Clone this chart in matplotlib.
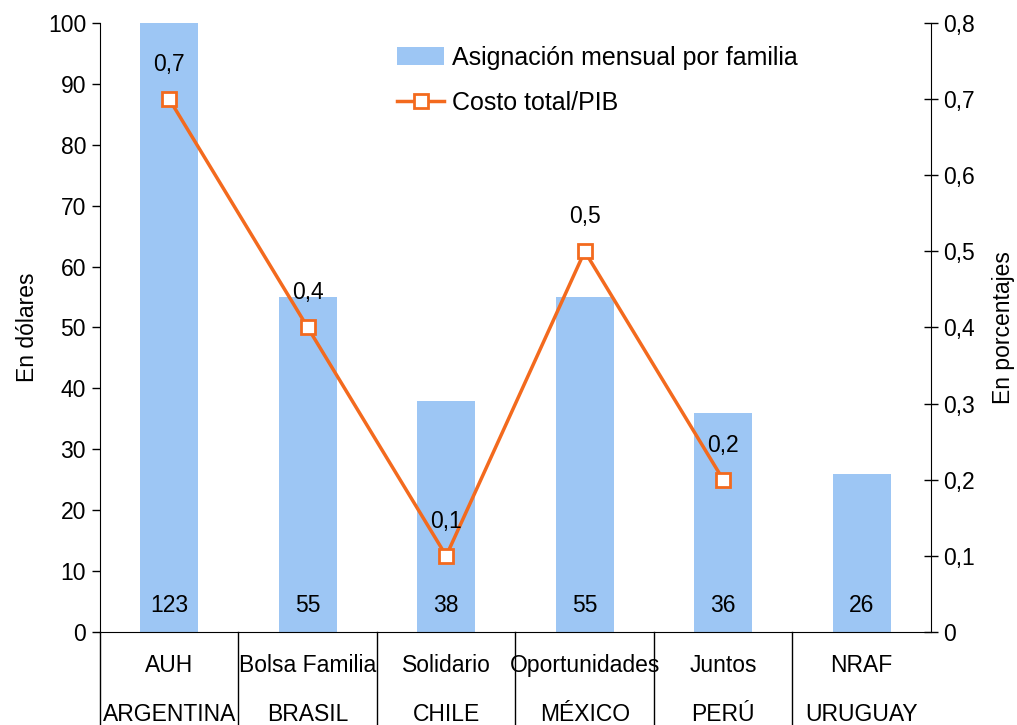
import numpy as np
import matplotlib.pyplot as plt
import matplotlib.transforms as mtransforms

plt.rcParams['font.family'] = ['Liberation Sans', 'DejaVu Sans']

#%% Data
programas = ['AUH', 'Bolsa Familia', 'Solidario', 'Oportunidades', 'Juntos', 'NRAF']
paises = ['ARGENTINA', 'BRASIL', 'CHILE', 'MÉXICO', 'PERÚ', 'URUGUAY']
asignacion = [123, 55, 38, 55, 36, 26]          # dólares
costo_pib = [0.7, 0.4, 0.1, 0.5, 0.2]           # porcentajes (sin dato Uruguay)
costo_txt = ['0,7', '0,4', '0,1', '0,5', '0,2']
y2_ticks = [0, 0.1, 0.2, 0.3, 0.4, 0.5, 0.6, 0.7, 0.8]
y2_labels = ['0', '0,1', '0,2', '0,3', '0,4', '0,5', '0,6', '0,7', '0,8']

bar_col = '#9DC6F4'
line_col = '#F36A1E'
fs = 16.5

fig = plt.figure(figsize=(10.17, 7.25), dpi=100)
ax = fig.add_axes([0.0983, 0.1283, 0.8171, 0.84])
x = np.arange(len(programas))

ax.bar(x, asignacion, width=0.42, color=bar_col, label='Asignación mensual por familia', zorder=2)
ax.set_ylim(0, 100)
ax.set_xlim(-0.5, len(programas) - 0.5)
ax.set_yticks(range(0, 101, 10))
ax.tick_params(axis='y', labelsize=fs, length=6, width=1, direction='out', pad=4)
ax.set_xticks([])
ax.set_ylabel('En dólares', fontsize=fs, labelpad=6)
for s in ['top', 'right']:
    ax.spines[s].set_visible(False)

# value labels at bottom of bars
for xi, v in zip(x, asignacion):
    ax.text(xi, 4.3, str(v), ha='center', va='center', fontsize=fs, zorder=4)

# category table below axis
trans = mtransforms.blended_transform_factory(ax.transData, ax.transAxes)
for b in np.arange(-0.5, len(programas) - 0.5, 1.0):
    ax.plot([b, b], [0, -0.2], color='black', lw=1, transform=trans, clip_on=False)
for xi, p, c in zip(x, programas, paises):
    ax.text(xi, -0.055, p, ha='center', va='center', fontsize=fs, transform=trans)
    ax.text(xi, -0.135, c, ha='center', va='center', fontsize=fs, transform=trans)

# secondary axis
ax2 = ax.twinx()
ax2.set_ylim(0, 0.8)
ax2.set_yticks(y2_ticks)
ax2.set_yticklabels(y2_labels)
ax2.tick_params(axis='y', labelsize=fs, length=10, width=1, direction='inout', pad=4)
for s in ['top', 'left', 'bottom']:
    ax2.spines[s].set_visible(False)
ax2.set_ylabel('En porcentajes', fontsize=fs, labelpad=12)

ax2.plot(x[:len(costo_pib)], costo_pib, color=line_col, lw=2.5, marker='s', markersize=10,
         markerfacecolor='white', markeredgecolor=line_col, markeredgewidth=2,
         label='Costo total/PIB', zorder=3)
for xi, v, t in zip(x, costo_pib, costo_txt):
    ax2.annotate(t, (xi, v), xytext=(0, 25), textcoords='offset points',
                 ha='center', va='center', fontsize=fs)

h1, l1 = ax.get_legend_handles_labels()
h2, l2 = ax2.get_legend_handles_labels()
ax2.legend(h1 + h2, l1 + l2, loc='upper left', bbox_to_anchor=(0.368, 0.968),
           bbox_transform=fig.transFigure, frameon=False, fontsize=18,
           handlelength=1.9, handletextpad=0.3, labelspacing=0.85)

plt.savefig('out.png', dpi=100)
